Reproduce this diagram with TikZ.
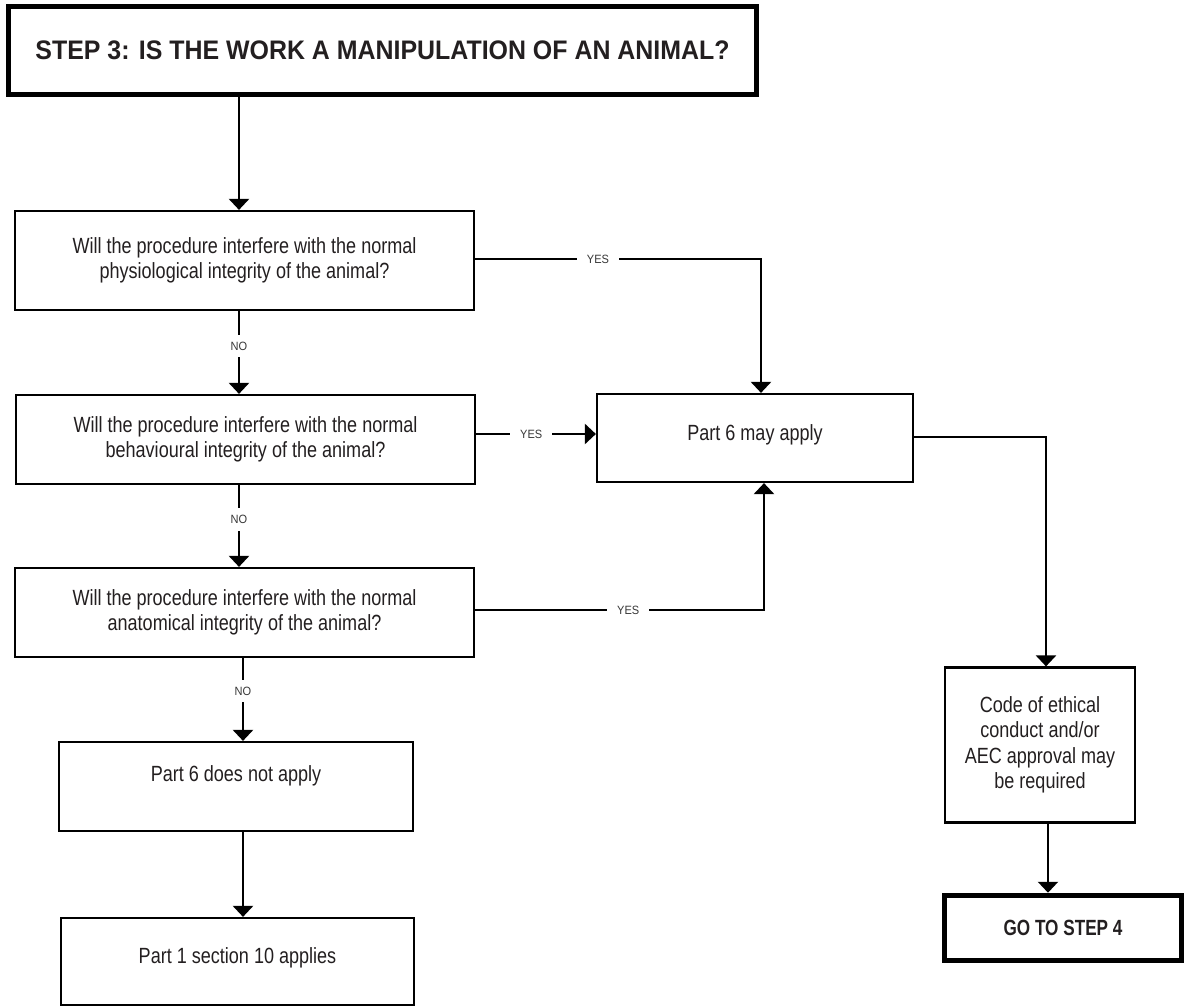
\documentclass[tikz,border=0pt]{standalone}
\usepackage{fontspec}
\setmainfont{Liberation Sans}[FakeStretch=0.82]
\newfontfamily\titlefont{Liberation Sans}[FakeStretch=0.93]
\newfontfamily\gofont{Liberation Sans}[FakeStretch=0.78]
\newfontfamily\labfont{Liberation Sans}[FakeStretch=0.92]
\usetikzlibrary{arrows.meta}
\definecolor{ink}{RGB}{35,31,32}
\definecolor{labink}{RGB}{55,55,55}
\tikzset{
  box/.style={draw=black, line width=2.2pt, rectangle, align=center, text=ink,
    font=\fontsize{22}{25.5}\selectfont, inner sep=0pt},
  heavybox/.style={draw=black, line width=5.5pt, rectangle, align=center, text=ink, inner sep=0pt},
  conn/.style={draw=black, line width=2.4pt},
  arr/.style={conn, -{Triangle[width=20pt,length=11pt]}},
  lab/.style={fill=white, text=labink, font=\labfont\fontsize{12}{14}\selectfont,
    inner xsep=10pt, inner ysep=7pt}
}
\begin{document}
\begin{tikzpicture}[x=1pt,y=-1pt]
\useasboundingbox (0,0) rectangle (1187,1008);
% columns / rows
\coordinate (cA) at (239,0);
\coordinate (cB) at (243,0);
\coordinate (cT) at (761,0);
\coordinate (cU) at (764,0);
\coordinate (cR) at (1046,0);
\coordinate (cS) at (1048,0);
\coordinate (r1) at (0,259);
\coordinate (r2) at (0,434);
\coordinate (r3) at (0,610);
\coordinate (r4) at (0,437);
% nodes
\node[heavybox, minimum width=748pt, minimum height=88pt,
  font=\titlefont\bfseries\fontsize{26.8}{30}\selectfont] (title) at (382.5,50.5)
  {STEP 3: IS THE WORK A MANIPULATION OF AN ANIMAL?};
\node[box, minimum width=459pt, minimum height=99pt] (b1) at (244.5,260.5)
  {Will the procedure interfere with the normal\\physiological integrity of the animal?};
\node[box, minimum width=459pt, minimum height=89pt] (b2) at (245.5,439.5)
  {Will the procedure interfere with the normal\\behavioural integrity of the animal?};
\node[box, minimum width=459pt, minimum height=89pt] (b3) at (244.5,612.5)
  {Will the procedure interfere with the normal\\anatomical integrity of the animal?};
\node[box, minimum width=354pt, minimum height=89pt, text height=15pt, text depth=25pt] (b4) at (236,786.5)
  {Part 6 does not apply};
\node[box, minimum width=353pt, minimum height=87pt, text height=15pt, text depth=11pt] (b5) at (237.5,961.5)
  {Part 1 section 10 applies};
\node[box, minimum width=316pt, minimum height=88pt, text height=15pt, text depth=11pt] (p6) at (755,438)
  {Part 6 may apply};
\node[box, minimum width=190pt, minimum height=155pt] (code) at (1040,745)
  {Code of ethical\\conduct and/or\\AEC approval may\\be required};
\node[heavybox, minimum width=237pt, minimum height=65pt,
  font=\gofont\bfseries\fontsize{22}{26}\selectfont] (go) at (1063,928)
  {GO TO STEP 4};
% connectors
\draw[arr] (title.south -| cA) -- (b1.north -| cA);
\draw[arr] (b1.south -| cA) -- node[lab, pos=0.42] {NO} (b2.north -| cA);
\draw[arr] (b2.south -| cA) -- node[lab, pos=0.42] {NO} (b3.north -| cA);
\draw[arr] (b3.south -| cB) -- node[lab, pos=0.40] {NO} (b4.north -| cB);
\draw[arr] (b4.south -| cB) -- (b5.north -| cB);
\draw[arr] (b1.east |- r1) -- node[lab, pos=0.43] {YES} (cT |- r1) -- (p6.north -| cT);
\draw[arr] (b2.east |- r2) -- node[lab, pos=0.46] {YES} (p6.west |- r2);
\draw[arr] (b3.east |- r3) -- node[lab, pos=0.53] {YES} (cU |- r3) -- (p6.south -| cU);
\draw[arr] (p6.east |- r4) -- (cR |- r4) -- (code.north -| cR);
\draw[arr] (code.south -| cS) -- (go.north -| cS);
\end{tikzpicture}
\end{document}
